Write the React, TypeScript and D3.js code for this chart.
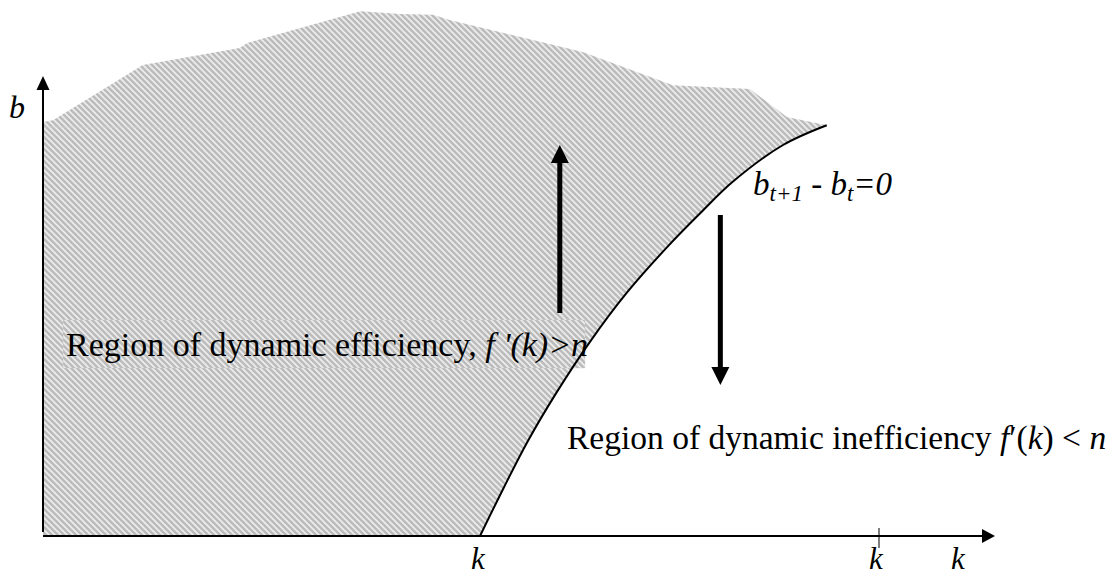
import React from "react";
import * as d3 from "d3";

// Upper edge of the shaded region (k, b)
const topK = [0, 1.05, 10.5, 20.7, 21.5, 33.4, 37.6, 41.05, 42.8, 56.8, 66.3, 74.4, 78.3, 82.5];
const topB = [90.0, 90.4, 102.4, 106.1, 107.2, 114.1, 113.5, 113.3, 112.2, 105.2, 98.0, 97.2, 91.1, 89.3];

// Locus b_{t+1} - b_t = 0 (k, b)
const locusK = [46.0, 48.5, 51.0, 54.0, 57.5, 61.5, 65.7, 69.2, 72.6, 77.9, 82.5];
const locusB = [0, 10.5, 20.5, 31.0, 42.0, 53.0, 62.8, 70.2, 77.0, 85.0, 89.3];

// Direction arrows: [k, bFrom, bTo]
const arrowK = [54.4, 71.3];
const arrowFrom = [48.5, 69.8];
const arrowTo = [85.0, 32.8];

// Marked capital stock on the k axis
const kBar = 88.0;
const kMax = 100;
const bMax = 100;

const W = 1114;
const H = 576;
const serif = "'Liberation Serif', 'Times New Roman', 'DejaVu Serif', serif";

export default function App() {
  const x = d3.scaleLinear().domain([0, kMax]).range([43, 993]);
  const y = d3.scaleLinear().domain([0, bMax]).range([536, 76]);

  const topPts: [number, number][] = topK.map((k, i) => [x(k), y(topB[i])]);
  const locusPts: [number, number][] = locusK.map((k, i) => [x(k), y(locusB[i])]);

  const lin = d3.line<[number, number]>().curve(d3.curveLinear);
  const smooth = d3.line<[number, number]>().curve(d3.curveCatmullRom);

  const regionPath =
    lin([[x(0), y(0)], ...topPts]) +
    smooth([...locusPts].reverse())!.replace(/^M/, "L") +
    "Z";
  const locusPath = smooth(locusPts)!;

  const x0 = x(0);
  const y0 = y(0);
  const xEnd = x(kMax) + 2;
  const yTop = y(bMax);

  return (
    <svg
      width={W}
      height={H}
      style={{ position: "absolute", left: 0, top: 0, background: "#fff", fontFamily: serif }}
    >
      <defs>
        <pattern id="hatch" patternUnits="userSpaceOnUse" width={6} height={6}>
          <rect width={6} height={6} fill="#bcbcbc" />
          <path d="M-1,-1 L7,7 M-1,5 L1,7 M5,-1 L7,1" stroke="#eeeeee" strokeWidth={1.6} />
        </pattern>
        <pattern id="hatch2" patternUnits="userSpaceOnUse" width={6} height={6} x={3}>
          <rect width={6} height={6} fill="#bcbcbc" />
          <path d="M-1,-1 L7,7 M-1,5 L1,7 M5,-1 L7,1" stroke="#eeeeee" strokeWidth={1.6} />
        </pattern>
      </defs>

      {/* shaded region of dynamic efficiency */}
      <path d={regionPath} fill="url(#hatch)" />
      <line x1={x0 + 2} x2={x(72)} y1={127} y2={127} stroke="#d4d4d4" strokeWidth={1} opacity={0.5} />

      {/* label box inside the shaded area */}
      <rect x={63} y={320} width={522} height={48} fill="url(#hatch2)" stroke="#d0d0d0" strokeWidth={0.6} strokeOpacity={0.6} />

      {/* locus */}
      <path d={locusPath} fill="none" stroke="#000" strokeWidth={2} />

      {/* axes */}
      <line x1={x0} x2={x0} y1={y0 - 4} y2={yTop + 12} stroke="#000" strokeWidth={2} />
      <path d={`M${x0 - 6.5},${yTop + 14} L${x0},${yTop} L${x0 + 6.5},${yTop + 14} Z`} fill="#000" />
      <line x1={x0} x2={xEnd - 12} y1={y0} y2={y0} stroke="#000" strokeWidth={2} />
      <path d={`M${xEnd - 13},${y0 - 7} L${xEnd},${y0} L${xEnd - 13},${y0 + 7} Z`} fill="#000" />
      <line x1={x(kBar)} x2={x(kBar)} y1={y0 - 8} y2={y0 + 12} stroke="#000" strokeWidth={1} />

      {/* direction arrows */}
      {arrowK.map((k, i) => {
        const ax = x(k);
        const ya = y(arrowFrom[i]);
        const yb = y(arrowTo[i]);
        const dir = yb < ya ? -1 : 1;
        return (
          <g key={i}>
            <line x1={ax} x2={ax} y1={ya} y2={yb - dir * 16} stroke="#000" strokeWidth={5} />
            <path
              d={`M${ax - 9},${yb - dir * 18} L${ax},${yb} L${ax + 9},${yb - dir * 18} Z`}
              fill="#000"
            />
          </g>
        );
      })}

      {/* axis labels */}
      <text x={9} y={118} fontSize={32} fontStyle="italic">b</text>
      <text x={x(locusK[0]) - 9} y={569} fontSize={31} fontStyle="italic">k</text>
      <text x={x(kBar) - 10} y={569} fontSize={31} fontStyle="italic">k</text>
      <text x={951} y={569} fontSize={31} fontStyle="italic">k</text>

      {/* locus label */}
      <text x={753} y={195} fontSize={33} fontStyle="italic">
        b<tspan fontSize={23} dy={6}>t+1</tspan>
        <tspan dy={-6} fontStyle="normal"> - </tspan>b<tspan fontSize={23} dy={6}>t</tspan>
        <tspan dy={-6}>=0</tspan>
      </text>

      {/* region labels */}
      <text x={66} y={356} fontSize={34}>
        Region of dynamic efficiency,{" "}
        <tspan fontStyle="italic">f '(k)&gt;n</tspan>
      </text>
      <text x={567} y={449} fontSize={33.5}>
        Region of dynamic inefficiency{"  "}
        <tspan fontStyle="italic">f</tspan>
        <tspan>′(</tspan>
        <tspan fontStyle="italic">k</tspan>
        <tspan>) &lt; </tspan>
        <tspan fontStyle="italic">n</tspan>
      </text>
    </svg>
  );
}
